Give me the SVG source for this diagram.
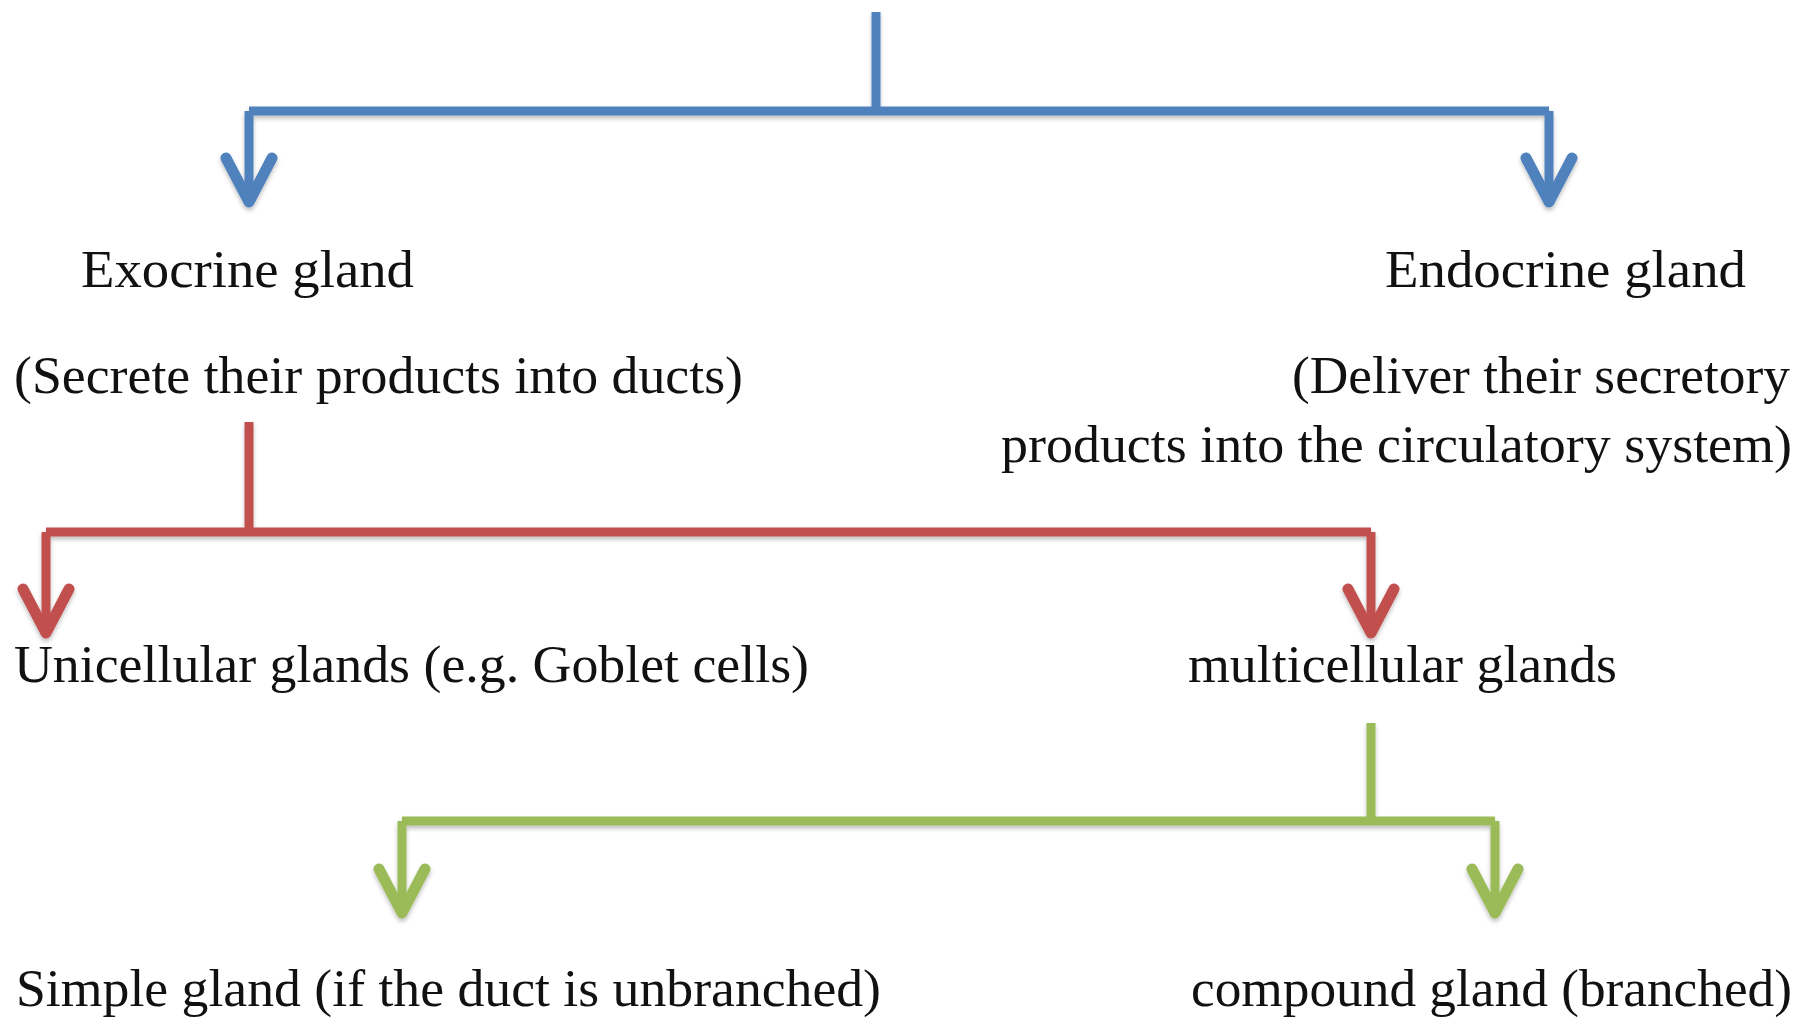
<svg xmlns="http://www.w3.org/2000/svg" width="1813" height="1018" viewBox="0 0 1813 1018">
<style>
.t{font-family:"Liberation Serif","Times New Roman",serif;font-size:53px;fill:#111}
.ln{fill:none;stroke-width:9;stroke-linejoin:miter}
.blue{stroke:#4F81BD}
.red{stroke:#C0504D}
.green{stroke:#9BBB59}
.hd{fill:none;stroke-width:11;stroke-linejoin:round;stroke-linecap:round}
</style>
<defs>
<filter id="sh" x="-5%" y="-5%" width="110%" height="120%">
<feDropShadow dx="0" dy="3" stdDeviation="2" flood-color="#000" flood-opacity="0.25"/>
</filter>
</defs>
<rect width="1813" height="1018" fill="#fff"/>
<g id="connectors" filter="url(#sh)">
<g id="blue-connector">
<path class="ln blue" d="M876 12 V111 M249 111 H1549 M249 111 V202 M1549 111 V202"/>
<path class="hd blue" d="M226 158 L249 202 L272 158 M1526 158 L1549 202 L1572 158"/>
</g>
<g id="red-connector">
<path class="ln red" d="M249 422 V532 M46 532 H1371 M46 532 V633 M1371 532 V633"/>
<path class="hd red" d="M23 589 L46 633 L69 589 M1348 589 L1371 633 L1394 589"/>
</g>
<g id="green-connector">
<path class="ln green" d="M1371 723 V821 M402 821 H1495 M402 821 V913 M1495 821 V913"/>
<path class="hd green" d="M379 869 L402 913 L425 869 M1472 869 L1495 913 L1518 869"/>
</g>
</g>
<g id="exocrine">
<text class="t" x="81" y="287" textLength="333" lengthAdjust="spacingAndGlyphs">Exocrine gland</text>
<text class="t" x="14" y="393" textLength="729" lengthAdjust="spacingAndGlyphs">(Secrete their products into ducts)</text>
</g>
<g id="endocrine">
<text class="t" x="1385" y="287" textLength="361" lengthAdjust="spacingAndGlyphs">Endocrine gland</text>
<text class="t" x="1292" y="393" textLength="498" lengthAdjust="spacingAndGlyphs">(Deliver their secretory</text>
<text class="t" x="1001" y="462" textLength="791" lengthAdjust="spacingAndGlyphs">products into the circulatory system)</text>
</g>
<g id="unicellular">
<text class="t" x="14" y="682" textLength="795" lengthAdjust="spacingAndGlyphs">Unicellular glands (e.g. Goblet cells)</text>
</g>
<g id="multicellular">
<text class="t" x="1188" y="682" textLength="429" lengthAdjust="spacingAndGlyphs">multicellular glands</text>
</g>
<g id="simple">
<text class="t" x="16" y="1006" textLength="865" lengthAdjust="spacingAndGlyphs">Simple gland (if the duct is unbranched)</text>
</g>
<g id="compound">
<text class="t" x="1191" y="1006" textLength="601" lengthAdjust="spacingAndGlyphs">compound gland (branched)</text>
</g>
</svg>
